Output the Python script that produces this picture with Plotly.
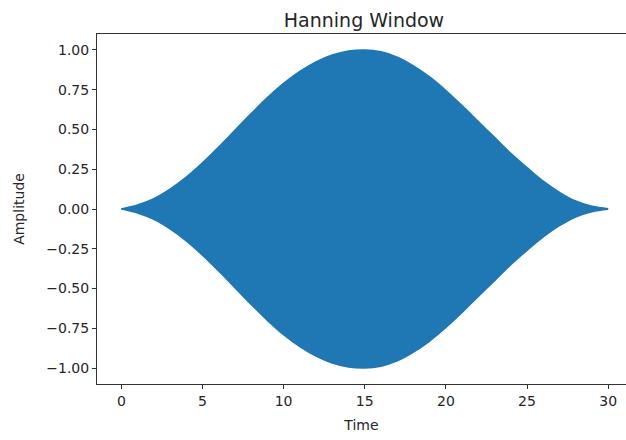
import plotly.graph_objects as go

# Envelope of the windowed signal, sampled once per time unit
time = list(range(0, 31))
envelope = [0.00, 0.025, 0.065, 0.125, 0.20, 0.29, 0.39, 0.495, 0.60, 0.70,
            0.79, 0.865, 0.925, 0.968, 0.993, 1.00, 0.988, 0.955, 0.90, 0.83,
            0.745, 0.65, 0.55, 0.45, 0.35, 0.26, 0.175, 0.105, 0.05, 0.017, 0.002]

x_ticks = [0, 5, 10, 15, 20, 25, 30]
y_ticks = [-1.00, -0.75, -0.50, -0.25, 0.00, 0.25, 0.50, 0.75, 1.00]
y_tick_text = ["\u22121.00", "\u22120.75", "\u22120.50", "\u22120.25", "0.00",
               "0.25", "0.50", "0.75", "1.00"]

blue = "#1f77b4"
font = "DejaVu Sans"
text_color = "#262626"

fig = go.Figure()
fig.add_trace(go.Scatter(
    x=time, y=envelope, mode="lines",
    line=dict(color=blue, width=1.5, shape="spline", smoothing=1),
    hoverinfo="skip",
))
fig.add_trace(go.Scatter(
    x=time, y=[-v for v in envelope], mode="lines",
    line=dict(color=blue, width=1.5, shape="spline", smoothing=1),
    fill="tonexty", fillcolor=blue,
    hoverinfo="skip",
))

fig.update_layout(
    width=626, height=440,
    margin=dict(l=97, r=0, t=34, b=56),
    paper_bgcolor="white", plot_bgcolor="white",
    showlegend=False,
    font=dict(family=font, size=14, color=text_color),
    title=dict(text="Hanning Window", x=364 / 626, xanchor="center",
               y=1 - 20 / 440, yanchor="middle",
               font=dict(family=font, size=19, color=text_color)),
)
fig.update_xaxes(
    range=[-1.5, 31.1], tickvals=x_ticks, ticktext=[str(v) for v in x_ticks],
    showgrid=False, zeroline=False,
    showline=True, linecolor="#333333", linewidth=1, mirror=True,
    ticks="outside", ticklen=4, tickwidth=1, tickcolor="#333333",
    title=dict(text="Time", standoff=12, font=dict(size=14)),
    tickfont=dict(size=14),
)
fig.update_yaxes(
    range=[-1.1, 1.1], tickvals=y_ticks, ticktext=y_tick_text,
    showgrid=False, zeroline=False,
    showline=True, linecolor="#333333", linewidth=1,
    ticks="outside", ticklen=4, tickwidth=1, tickcolor="#333333",
    title=dict(text="Amplitude", standoff=18, font=dict(size=14)),
    tickfont=dict(size=14),
)

fig.write_html("out.html")
